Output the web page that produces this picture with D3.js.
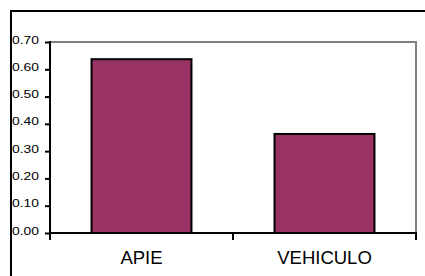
<!DOCTYPE html>
<html>
<head>
<meta charset="utf-8">
<script src="https://cdn.jsdelivr.net/npm/d3@7"></script>
<style>
  body { margin: 0; background: #fff; }
  svg { display: block; font-family: "Liberation Sans", Arial, sans-serif; }
  .domain { display: none; }
</style>
</head>
<body>
<div id="chart"></div>
<script>
var categories = ["APIE", "VEHICULO"];
var values = [0.637, 0.363];
var yTicks = [0, 0.1, 0.2, 0.3, 0.4, 0.5, 0.6, 0.7];

var width = 425,
    height = 276,
    plot = {left: 50, right: 416, top: 42, bottom: 233};

var svg = d3.select("#chart").append("svg")
  .attr("width", width)
  .attr("height", height);

// outer chart border (cropped at right/bottom)
svg.append("rect")
  .attr("x", 11).attr("y", 11)
  .attr("width", 440).attr("height", 300)
  .attr("fill", "none")
  .attr("stroke", "#000")
  .attr("stroke-width", 2);

var x = d3.scaleBand()
  .domain(categories)
  .range([plot.left, plot.right])
  .paddingInner(0.454)
  .paddingOuter(0.227);

var y = d3.scaleLinear()
  .domain([0, 0.7])
  .range([plot.bottom, plot.top]);

// plot area frame: gray top and right
svg.append("path")
  .attr("d", `M${plot.left},${plot.top}H${plot.right}V${plot.bottom}`)
  .attr("fill", "none")
  .attr("stroke", "#808080")
  .attr("stroke-width", 2);

// bars
svg.selectAll(".bar")
  .data(categories.map((c, i) => ({cat: c, val: values[i]})))
  .enter().append("rect")
  .attr("class", "bar")
  .attr("x", d => x(d.cat))
  .attr("y", d => y(d.val))
  .attr("width", x.bandwidth())
  .attr("height", d => y(0) - y(d.val))
  .attr("fill", "#993366")
  .attr("stroke", "#000")
  .attr("stroke-width", 2);

// y axis
var yAxis = d3.axisLeft(y)
  .tickValues(yTicks)
  .tickFormat(d3.format(".2f"))
  .tickSize(5)
  .tickPadding(6);

var gy = svg.append("g")
  .attr("transform", `translate(${plot.left},0)`)
  .call(yAxis);
gy.selectAll("line").attr("stroke", "#000").attr("stroke-width", 2);
gy.selectAll("text")
  .attr("fill", "#000")
  .attr("font-size", 11)
  .attr("dy", "0.1em")
  .attr("textLength", 27)
  .attr("lengthAdjust", "spacingAndGlyphs");
gy.append("line")
  .attr("x1", 0).attr("x2", 0)
  .attr("y1", plot.top - 1).attr("y2", plot.bottom + 7)
  .attr("stroke", "#000").attr("stroke-width", 2);

// x axis: labels centered, ticks on category boundaries
var xAxis = d3.axisBottom(x).tickSize(0).tickPadding(18);
var gx = svg.append("g")
  .attr("transform", `translate(0,${plot.bottom})`)
  .call(xAxis);
gx.selectAll("text")
  .attr("fill", "#000")
  .attr("font-size", 18.5);

var bounds = [plot.left].concat(categories.map(c => x(c) + x.bandwidth() / 2 + x.step() / 2));
gx.selectAll(".xtick")
  .data(bounds)
  .enter().append("line")
  .attr("class", "xtick")
  .attr("x1", d => d).attr("x2", d => d)
  .attr("y1", 0).attr("y2", 7)
  .attr("stroke", "#000").attr("stroke-width", 2);
gx.append("line")
  .attr("x1", plot.left - 1).attr("x2", plot.right + 1)
  .attr("y1", 0).attr("y2", 0)
  .attr("stroke", "#000").attr("stroke-width", 2);
</script>
</body>
</html>
